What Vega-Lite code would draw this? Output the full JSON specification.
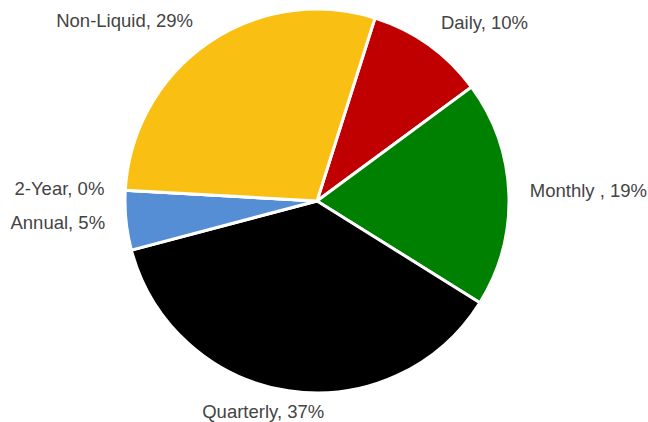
{
  "$schema": "https://vega.github.io/schema/vega-lite/v6.json",
  "width": 634,
  "height": 402,
  "autosize": "none",
  "padding": {"left": 0, "right": 14, "top": 0, "bottom": 20},
  "background": "white",
  "config": {"view": {"stroke": null}},
  "data": {
    "values": [
      {"category": "Daily", "value": 10, "rank": 1, "label": "Daily, 10%"},
      {"category": "Monthly", "value": 19, "rank": 2, "label": "Monthly , 19%"},
      {"category": "Quarterly", "value": 37, "rank": 3, "label": "Quarterly, 37%"},
      {"category": "Annual", "value": 5, "rank": 4, "label": "Annual, 5%"},
      {"category": "2-Year", "value": 0, "rank": 5, "label": "2-Year, 0%"},
      {"category": "Non-Liquid", "value": 29, "rank": 6, "label": "Non-Liquid, 29%"}
    ]
  },
  "encoding": {
    "theta": {"field": "value", "type": "quantitative", "stack": true, "scale": {"range": [0.307, 6.590]}},
    "order": {"field": "rank", "type": "quantitative", "sort": "ascending"}
  },
  "layer": [
    {
      "mark": {"type": "arc", "outerRadius": 192, "stroke": "white", "strokeWidth": 3},
      "encoding": {
        "color": {
          "field": "category",
          "type": "nominal",
          "legend": null,
          "scale": {
            "domain": ["Daily", "Monthly", "Quarterly", "Annual", "2-Year", "Non-Liquid"],
            "range": ["#c00000", "#008000", "#000000", "#558ed5", "#7f7f7f", "#f9c013"]
          }
        }
      }
    },
    {
      "mark": {
        "type": "text",
        "radius": 213,
        "font": "Liberation Sans",
        "fontSize": 18.5,
        "color": "#444444",
        "baseline": "middle",
        "align": {"expr": "datum.category == 'Quarterly' ? 'center' : (datum.category == 'Daily' || datum.category == 'Monthly' ? 'left' : 'right')"},
        "dx": {"expr": "datum.category == 'Quarterly' ? -22 : (datum.category == 'Non-Liquid' ? -3 : 0)"},
        "dy": {"expr": "datum.category == 'Daily' || datum.category == 'Non-Liquid' ? -5 : (datum.category == 'Monthly' ? -2 : 0)"}
      },
      "encoding": {
        "text": {"field": "label", "type": "nominal"}
      }
    }
  ]
}
